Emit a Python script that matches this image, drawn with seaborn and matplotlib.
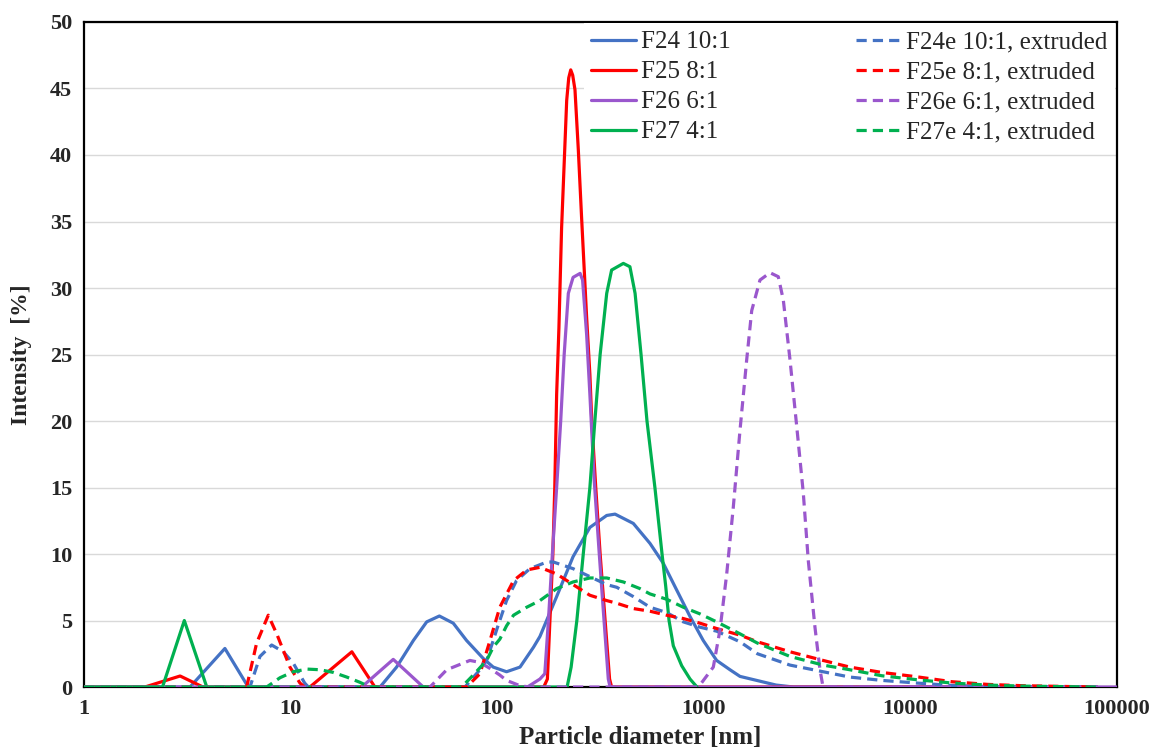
import matplotlib
matplotlib.use("Agg")
import matplotlib.pyplot as plt
import seaborn as sns
from matplotlib.ticker import FixedLocator, FuncFormatter, NullLocator

# --------------------------------------------------------------------------- #
# data: particle diameter [nm] vs intensity [%]
# --------------------------------------------------------------------------- #
f24_d = [1, 3.26, 4.81, 6.24, 27.1, 32.6, 39.3, 45.6, 52.5, 61.3, 71.1, 85.6, 95.7, 111, 129,
         150, 161, 194, 233, 281, 339, 372, 456, 549, 637, 739, 858, 994, 1154, 1339, 1497,
         2236, 2723, 80000]
f24_i = [0, 0, 2.9, 0, 0, 1.5, 3.5, 4.9, 5.34, 4.8, 3.5, 2.15, 1.5, 1.15, 1.5,
         3.0, 3.8, 6.8, 9.8, 12.0, 12.9, 13.0, 12.3, 10.8, 9.3, 7.3, 5.3, 3.5, 2.0, 1.3, 0.8,
         0.15, 0, 0]

f25_d = [1, 1.97, 2.92, 3.77, 12.4, 19.8, 25.6, 168, 175, 180, 186, 190, 194, 199, 205,
         217, 222, 227, 232, 238, 247, 256, 271, 281, 287, 300, 315, 333, 350, 358, 80000]
f25_i = [0, 0, 0.83, 0, 0, 2.65, 0, 0, 0.6, 5, 10, 15, 22, 27, 34.5,
         44.1, 45.8, 46.4, 46.0, 44.9, 40.4, 35.4, 27.8, 23.5, 20, 15, 10, 5, 0.6, 0, 0]

f26_d = [1, 22.1, 31.4, 43.9, 140, 161, 170, 177, 185, 194, 203, 211, 221, 233, 252,
         259, 271, 281, 295, 312, 329, 345, 352, 100000]
f26_i = [0, 0, 2.08, 0, 0, 0.6, 1.0, 5, 10, 15, 20, 25, 29.6, 30.8, 31.1,
         30.6, 26.5, 22, 15.5, 10, 5, 0.6, 0, 0]

f27_d = [1, 2.40, 3.06, 3.93, 218, 228, 243, 261, 281, 297, 315, 339, 358, 408, 439,
         465, 497, 531, 580, 628, 654, 679, 712, 782, 858, 927]
f27_i = [0, 0, 5.0, 0, 0, 1.5, 5, 10, 15, 20, 25, 29.6, 31.35, 31.85, 31.6,
         29.6, 25, 20, 15, 10, 7.6, 5, 3.1, 1.6, 0.6, 0]

f24e_d = [1, 6.36, 7.11, 8.10, 9.22, 10.3, 11.7, 12.2, 69.8, 82.5, 88.9, 95.7, 99.4, 111, 124,
          144, 174, 187, 233, 281, 339, 379, 456, 549, 661, 796, 958, 1154, 1497, 1820,
          2614, 3780, 5090, 7262, 10750, 15900, 23560, 80000]
f24e_i = [0, 0, 2.3, 3.16, 2.65, 1.8, 0.3, 0, 0, 1.3, 2.0, 3.5, 4.3, 6.5, 8.0,
          8.9, 9.4, 9.4, 8.9, 8.3, 7.7, 7.5, 6.8, 6.0, 5.6, 4.9, 4.5, 4.2, 3.4, 2.5,
          1.65, 1.15, 0.75, 0.5, 0.3, 0.12, 0.04, 0]

f25e_d = [1, 6.13, 6.85, 7.80, 8.57, 9.93, 11.1, 11.7, 71.1, 82.5, 92.3, 103, 120, 139, 161,
          194, 233, 281, 339, 379, 456, 549, 661, 796, 958, 1154, 1497, 1820, 2614, 3780,
          5090, 7262, 10750, 15900, 23560, 34880, 80000]
f25e_i = [0, 0, 3.3, 5.4, 4.0, 1.5, 0.3, 0, 0, 1.0, 3.5, 6.0, 8.0, 8.8, 9.0,
          8.5, 7.7, 6.9, 6.5, 6.3, 5.9, 5.7, 5.4, 5.15, 4.8, 4.4, 3.9, 3.4, 2.65, 2.0,
          1.5, 1.1, 0.77, 0.4, 0.2, 0.1, 0]

f26e_d = [1, 47.3, 57.0, 73.8, 82.5, 92.3, 103, 111, 129, 144, 924, 958, 1112, 1198, 1291,
          1389, 1497, 1613, 1706, 1871, 2092, 2294, 2426, 2614, 2817, 3031, 3205, 3452, 3651,
          3763, 3900, 80000]
f26e_i = [0, 0, 1.3, 2.0, 1.85, 1.4, 0.9, 0.5, 0.1, 0, 0, 0.15, 1.5, 4.3, 8.5,
          13.5, 19.3, 24.6, 28.3, 30.6, 31.15, 30.85, 29.1, 24.6, 19.6, 14.6, 9.5, 4.5, 1.3,
          0.15, 0, 0]

f27e_d = [1, 7.66, 8.89, 10.3, 12.0, 13.9, 16.1, 18.7, 21.7, 24.2, 67.3, 76.6, 88.9, 95.7, 103,
          111, 120, 139, 161, 194, 233, 281, 339, 408, 491, 549, 661, 796, 958, 1154,
          1497, 1820, 2614, 3780, 5090, 7262, 10750, 15900, 23560, 34880, 80000]
f27e_i = [0, 0, 0.7, 1.15, 1.35, 1.3, 1.1, 0.75, 0.35, 0, 0, 0.9, 2.0, 3.0, 3.6,
          4.6, 5.4, 6.0, 6.5, 7.4, 7.9, 8.2, 8.2, 7.9, 7.4, 7.0, 6.6, 6.0, 5.5, 4.9,
          4.0, 3.3, 2.3, 1.65, 1.3, 0.85, 0.55, 0.3, 0.15, 0.07, 0]

labels = ["F24 10:1", "F25 8:1", "F26 6:1", "F27 4:1",
          "F24e 10:1, extruded", "F25e 8:1, extruded",
          "F26e 6:1, extruded", "F27e 4:1, extruded"]
xticks = [1, 10, 100, 1000, 10000, 100000]
yticks = list(range(0, 51, 5))

BLUE = "#4472C4"
RED = "#FF0000"
PURPLE = "#9A57CD"
GREEN = "#00B050"
DASH = (0, (3.2, 1.9))

series = [
    (f24_d, f24_i, BLUE, "-"),
    (f25_d, f25_i, RED, "-"),
    (f26_d, f26_i, PURPLE, "-"),
    (f27_d, f27_i, GREEN, "-"),
    (f24e_d, f24e_i, BLUE, DASH),
    (f25e_d, f25e_i, RED, DASH),
    (f26e_d, f26e_i, PURPLE, DASH),
    (f27e_d, f27e_i, GREEN, DASH),
]

# --------------------------------------------------------------------------- #
# figure
# --------------------------------------------------------------------------- #
sns.set_theme(style="white")
plt.rcParams["font.family"] = ["Liberation Serif", "DejaVu Serif"]

fig = plt.figure(figsize=(11.58, 7.53), dpi=100)
ax = fig.add_axes([0.0725, 0.0876, 0.8921, 0.8832])

for (d, i, color, ls), lab in zip(series, labels):
    sns.lineplot(x=d, y=i, ax=ax, color=color, linestyle=ls, linewidth=2.3,
                 label=lab, estimator=None, sort=False, zorder=3)

ax.set_xscale("log")
ax.set_xlim(1, 100000)
ax.set_ylim(0, 50)
ax.xaxis.set_major_locator(FixedLocator(xticks))
ax.xaxis.set_minor_locator(NullLocator())
ax.xaxis.set_major_formatter(FuncFormatter(lambda v, p: f"{v:.0f}"))
ax.set_yticks(yticks)

ax.yaxis.grid(True, color="#D9D9D9", linewidth=1.0)
ax.xaxis.grid(False)
ax.set_axisbelow(True)

for sp in ax.spines.values():
    sp.set_color("black")
    sp.set_linewidth(1.6)

ax.tick_params(axis="both", which="major", direction="inout", length=9, width=1.5,
               color="black", labelsize=16, pad=4)
for t in ax.get_xticklabels() + ax.get_yticklabels():
    t.set_fontweight("bold")

ax.set_xlabel("Particle diameter [nm]", fontsize=18, fontweight="bold")
ax.xaxis.set_label_coords(0.538, -0.058)
ax.set_ylabel("Intensity  [%]", fontsize=17, fontweight="bold")
ax.yaxis.set_label_coords(-0.05, 0.5)

leg = ax.legend(ncol=2, loc="upper right", bbox_to_anchor=(0.998, 0.998), borderaxespad=0,
                fontsize=18, frameon=True, facecolor="white", edgecolor="none",
                framealpha=1.0, handlelength=1.8, handletextpad=0.2, labelspacing=0.3,
                columnspacing=5.0, borderpad=0.3)
leg.get_frame().set_boxstyle("square", pad=0)
leg.set_zorder(6)

fig.savefig("out.png", dpi=100)
